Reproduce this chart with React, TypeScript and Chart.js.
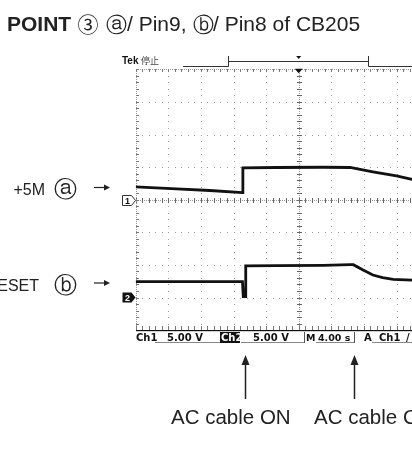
import React, { useEffect, useRef } from "react";
import { Chart, registerables } from "chart.js";
Chart.register(...registerables);

// ---- data (time in s, voltage in V) ----
const ch1Time = [-20, -15, -10.9, -6.9, -6.85, -2.7, 3.0, 6.3, 9.1, 12.0, 13.9, 20];
const ch1Volts = [1.96, 1.66, 1.41, 1.1, 4.88, 4.94, 4.98, 4.94, 4.27, 3.65, 3.1, 1.8];
const ch2Time = [-20, -6.9, -6.8, -6.55, -6.5, -2.7, 3.0, 6.3, 6.7, 7.9, 9.1, 10.3, 11.6, 13.9, 20];
const ch2Volts = [2.27, 2.27, 0, 0, 4.7, 4.73, 4.78, 4.88, 4.88, 4.06, 3.3, 2.89, 2.64, 2.53, 2.45];

const titleParts = ["POINT", "③", "ⓐ", "/ Pin9,", "ⓑ", "/ Pin8 of CB205"];
const sideLabels = ["+5M", "RESET"];
const sideMarks = ["ⓐ", "ⓑ"];
const eventTimes = [-6.6, 6.8];
const eventLabels = ["AC cable ON", "AC cable OFF"];
const statusTexts = ["Ch1", "5.00 V", "Ch2", "5.00 V", "M", "4.00 s", "A", "Ch1", "/"];

const SANS = '"Liberation Sans", Arial, Helvetica, sans-serif';
const CIRC = '"DejaVu Sans", sans-serif';
const CJK = '"Noto Sans CJK JP", "DejaVu Sans", sans-serif';

const scopePlugin = {
  id: "scope",
  beforeDatasetsDraw(chart: any) {
    const { ctx, chartArea: a } = chart;
    const dx = (a.right - a.left) / 10;
    const dy = (a.bottom - a.top) / 8;
    ctx.save();
    // dotted grid
    ctx.fillStyle = "#9a9a9a";
    for (let i = 1; i < 10; i++) {
      if (i === 5) continue;
      const x = Math.round(a.left + i * dx);
      for (let k = 0; k <= 40; k++) ctx.fillRect(x, Math.round(a.top + (k * dy) / 5), 1, 1);
    }
    for (let j = 1; j < 8; j++) {
      if (j === 4) continue;
      const y = Math.round(a.top + j * dy);
      for (let k = 0; k <= 50; k++) ctx.fillRect(Math.round(a.left + (k * dx) / 5), y, 1, 1);
    }
    // center cross with ticks
    const cx = Math.round(a.left + 5 * dx);
    const cy = Math.round(a.top + 4 * dy);
    ctx.fillStyle = "#999";
    for (let y = a.top; y < a.bottom; y += 2) ctx.fillRect(cx, Math.round(y), 1, 1);
    for (let x = a.left; x < a.right; x += 2) ctx.fillRect(Math.round(x), cy, 1, 1);
    ctx.fillStyle = "#666";
    for (let k = 0; k <= 40; k++) {
      const y = Math.round(a.top + (k * dy) / 5);
      ctx.fillRect(cx - 2, y, 5, 1);
    }
    for (let k = 0; k <= 50; k++) {
      const x = Math.round(a.left + (k * dx) / 5);
      ctx.fillRect(x, cy - 2, 1, 5);
    }
    // borders with ticks
    ctx.fillStyle = "#999";
    for (let x = a.left; x < a.right; x += 2) ctx.fillRect(Math.round(x), Math.round(a.top), 1, 1);
    for (let y = a.top; y < a.bottom; y += 2) ctx.fillRect(Math.round(a.left), Math.round(y), 1, 1);
    ctx.fillStyle = "#777";
    for (let k = 0; k <= 50; k++) {
      const x = Math.round(a.left + (k * dx) / 5);
      ctx.fillRect(x, Math.round(a.top), 1, 3);
      ctx.fillRect(x, Math.round(a.bottom) - 4, 1, 4);
    }
    for (let k = 0; k <= 40; k++) {
      const y = Math.round(a.top + (k * dy) / 5);
      ctx.fillRect(Math.round(a.left), y, 3, 1);
    }
    ctx.fillStyle = "#111";
    ctx.fillRect(Math.round(a.left), Math.round(a.bottom), a.right - a.left, 1.2);
    ctx.restore();
  },
  afterDraw(chart: any) {
    const { ctx, chartArea: a, scales } = chart;
    const xs = scales.x;
    const cx = xs.getPixelForValue(0);
    ctx.save();
    ctx.textBaseline = "alphabetic";
    // title
    const titleX = [7, 88, 116.5, 127, 203.5, 213];
    titleParts.forEach((p, i) => {
      ctx.fillStyle = "#222";
      if (p.length === 1) {
        ctx.textAlign = "center";
        ctx.font = p === "③" ? `21px ${CJK}` : `21px ${CIRC}`;
        ctx.fillText(p, titleX[i], p === "③" ? 31.5 : 31.5);
        return;
      }
      ctx.font = i === 0 ? `bold 21px ${SANS}` : `21px ${SANS}`;
      ctx.textAlign = "left";
      ctx.fillText(p, titleX[i], 30.5);
    });

    // top header
    ctx.textAlign = "left";
    ctx.fillStyle = "#111";
    ctx.font = `bold 10px ${SANS}`;
    ctx.fillText("Tek", 122, 64);
    ctx.font = `9px "Noto Sans CJK JP", sans-serif`;
    ctx.fillStyle = "#444";
    ctx.fillText("停止", 141, 64);
    ctx.strokeStyle = "#333";
    ctx.lineWidth = 1;
    ctx.beginPath();
    ctx.moveTo(183, 66.5); ctx.lineTo(228.5, 66.5);
    ctx.moveTo(368.5, 66.5); ctx.lineTo(a.right + 20, 66.5);
    ctx.moveTo(228.5, 56); ctx.lineTo(228.5, 66.5);
    ctx.moveTo(368.5, 56); ctx.lineTo(368.5, 66.5);
    ctx.moveTo(228.5, 61.5); ctx.lineTo(368.5, 61.5);
    ctx.stroke();
    ctx.fillStyle = "#111";
    ctx.beginPath();
    ctx.moveTo(cx - 2.5, 56); ctx.lineTo(cx + 2.5, 56); ctx.lineTo(cx, 59); ctx.closePath(); ctx.fill();
    // trigger position marker
    ctx.beginPath();
    ctx.moveTo(cx - 4, a.top - 0.5); ctx.lineTo(cx + 4, a.top - 0.5); ctx.lineTo(cx, a.top + 4); ctx.closePath(); ctx.fill();

    // channel ground markers
    const marks = [
      { y: scales.y1.getPixelForValue(0), label: "1", filled: false },
      { y: scales.y2.getPixelForValue(0), label: "2", filled: true },
    ];
    marks.forEach((m) => {
      const y = Math.round(m.y) + 0.5;
      ctx.beginPath();
      ctx.moveTo(122.5, y - 5); ctx.lineTo(131.5, y - 5); ctx.lineTo(135.5, y);
      ctx.lineTo(131.5, y + 5); ctx.lineTo(122.5, y + 5); ctx.closePath();
      if (m.filled) { ctx.fillStyle = "#111"; ctx.fill(); }
      else { ctx.fillStyle = "#fff"; ctx.fill(); ctx.strokeStyle = "#333"; ctx.lineWidth = 1; ctx.stroke(); }
      ctx.fillStyle = m.filled ? "#fff" : "#111";
      ctx.font = `bold 9px ${SANS}`;
      ctx.textAlign = "center";
      ctx.fillText(m.label, 127.5, y + 3.5);
    });

    // side labels
    const rows = [
      { base: 195, arrowY: 187.5, right: 45 },
      { base: 291, arrowY: 283, right: 39 },
    ];
    rows.forEach((r, i) => {
      ctx.fillStyle = "#222";
      ctx.font = `16px ${SANS}`;
      ctx.textAlign = "right";
      ctx.fillText(sideLabels[i], r.right, r.base);
      ctx.font = `23px ${CIRC}`;
      ctx.textAlign = "center";
      ctx.fillText(sideMarks[i], 65, r.base + 1.5);
      ctx.strokeStyle = "#222";
      ctx.lineWidth = 1.2;
      ctx.beginPath();
      ctx.moveTo(94, r.arrowY); ctx.lineTo(108, r.arrowY);
      ctx.stroke();
      ctx.beginPath();
      ctx.moveTo(110, r.arrowY); ctx.lineTo(104, r.arrowY - 3); ctx.lineTo(104, r.arrowY + 3); ctx.closePath();
      ctx.fill();
    });

    // status bar
    ctx.font = `bold 10px "DejaVu Sans", sans-serif`;
    ctx.textAlign = "left";
    ctx.fillStyle = "#111";
    const sb = 341;
    ctx.fillText(statusTexts[0], 136, sb);
    ctx.fillText(statusTexts[1], 167, sb);
    ctx.fillRect(220, 332, 20, 11);
    ctx.fillStyle = "#fff";
    ctx.fillText(statusTexts[2], 221, sb);
    ctx.fillStyle = "#111";
    ctx.fillText(statusTexts[3], 253, sb);
    ctx.font = `bold 9.5px "DejaVu Sans", sans-serif`;
    ctx.fillText(statusTexts[4], 306, sb);
    ctx.fillText(statusTexts[5], 318, sb);
    ctx.font = `bold 10px "DejaVu Sans", sans-serif`;
    ctx.fillText(statusTexts[6], 364, sb);
    ctx.fillText(statusTexts[7], 379, sb);
    ctx.fillText(statusTexts[8], 406, sb);
    ctx.fillStyle = "#888";
    ctx.fillRect(155, 342, 65, 1);
    ctx.fillRect(241, 342, 63, 1);
    ctx.fillRect(316, 342, 38, 1);
    ctx.fillRect(372, 342, 60, 1);
    ctx.fillStyle = "#555";
    ctx.fillRect(304, 332, 1, 11);
    ctx.fillRect(354, 332, 1, 11);

    // event arrows and labels
    ctx.strokeStyle = "#222";
    ctx.fillStyle = "#222";
    ctx.lineWidth = 1.5;
    const labelX = [171, 314];
    eventTimes.forEach((t, i) => {
      const x = Math.round(xs.getPixelForValue(t)) + 0.5;
      ctx.beginPath();
      ctx.moveTo(x, 362); ctx.lineTo(x, 399);
      ctx.stroke();
      ctx.beginPath();
      ctx.moveTo(x, 355); ctx.lineTo(x - 4, 365); ctx.lineTo(x + 4, 365); ctx.closePath();
      ctx.fill();
      ctx.font = `20.5px ${SANS}`;
      ctx.textAlign = "left";
      ctx.fillText(eventLabels[i], labelX[i], 424);
    });
    ctx.restore();
  },
};

export default function App() {
  const ref = useRef<HTMLCanvasElement>(null);
  useEffect(() => {
    if (!ref.current) return;
    const chart = new Chart(ref.current, {
      type: "line",
      data: {
        datasets: [
          {
            data: ch1Time.map((t, i) => ({ x: t, y: ch1Volts[i] })),
            yAxisID: "y1",
            borderColor: "#111",
            borderWidth: 2.8,
            pointRadius: 0,
            tension: 0,
          },
          {
            data: ch2Time.map((t, i) => ({ x: t, y: ch2Volts[i] })),
            yAxisID: "y2",
            borderColor: "#111",
            borderWidth: 2.8,
            pointRadius: 0,
            tension: 0,
          },
        ],
      },
      options: {
        animation: false,
        responsive: false,
        devicePixelRatio: 1,
        layout: { padding: { left: 135.7, top: 69.3, right: 480 - 461.7, bottom: 469 - 330.1 } },
        plugins: { legend: { display: false }, tooltip: { enabled: false } },
        scales: {
          x: { type: "linear", min: -20, max: 20, display: false },
          y1: { type: "linear", min: -20, max: 20, display: false },
          y2: { type: "linear", min: -5.15, max: 34.85, display: false },
        },
      },
      plugins: [scopePlugin],
    });
    return () => chart.destroy();
  }, []);
  return (
    <div style={{ position: "fixed", left: 0, top: 0, width: 412, height: 469, overflow: "hidden", background: "#fff" }}>
      <canvas ref={ref} width={480} height={469} style={{ display: "block", width: 480, height: 469 }} />
    </div>
  );
}
